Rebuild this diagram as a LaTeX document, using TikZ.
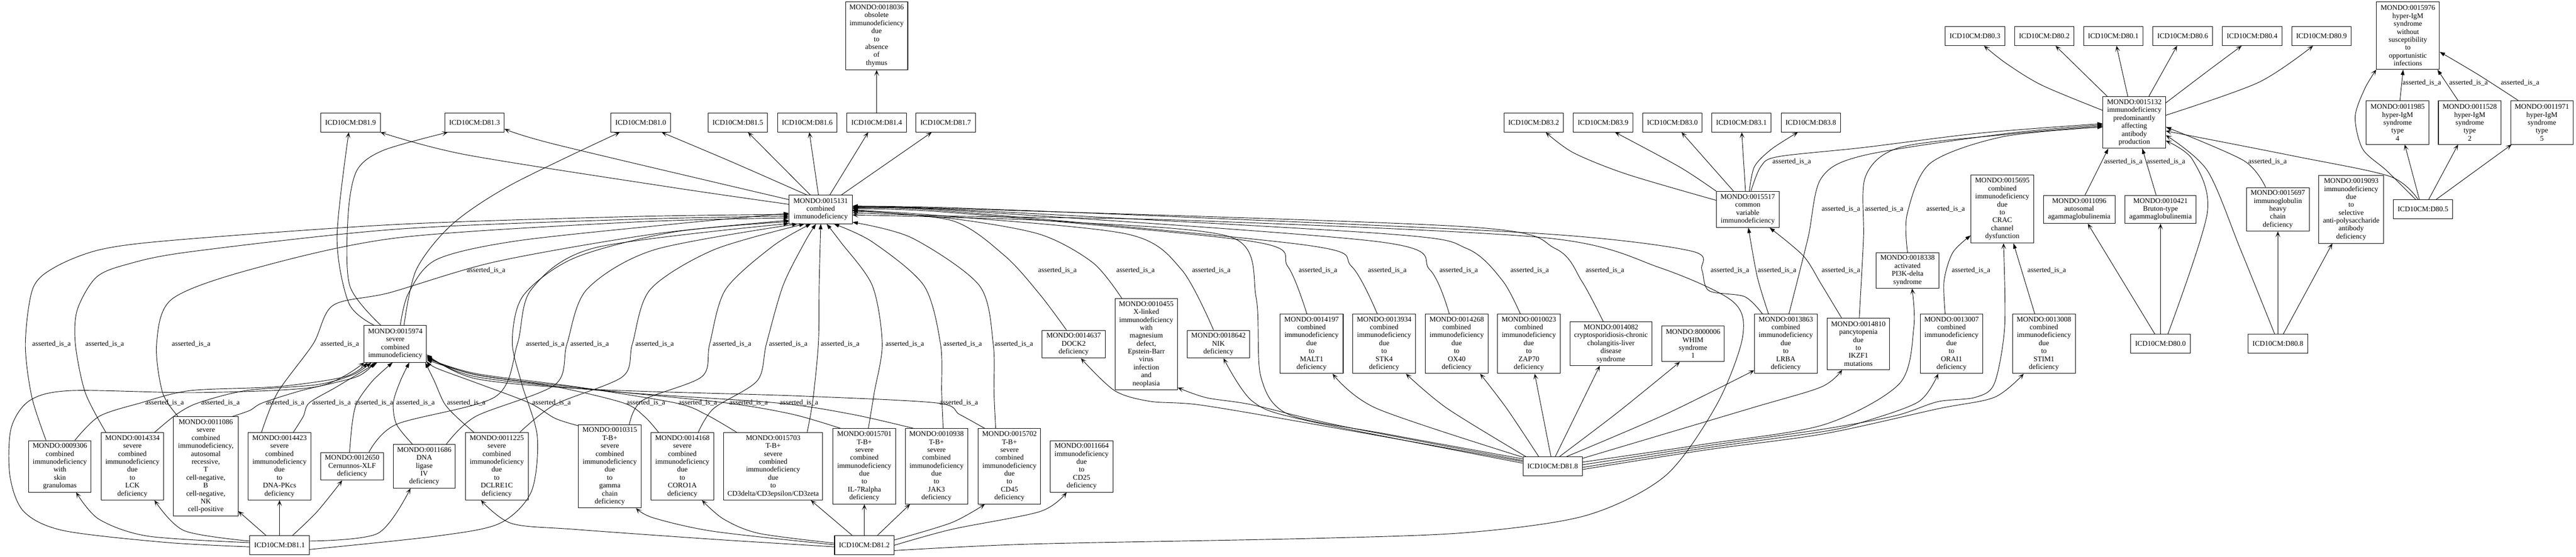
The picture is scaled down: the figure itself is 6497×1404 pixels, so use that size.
\documentclass[tikz,border=0pt]{standalone}
\usepackage{fontspec}
\setmainfont{Liberation Serif}
\usetikzlibrary{arrows.meta}
\newcommand\lfont{\fontsize{13.65}{15}\selectfont}
\newcommand\gbx[6]{\node[gbox, minimum width=#4*0.75pt, minimum height=#5*0.75pt] (#1) at (#2,#3) {#6};}
\newcommand\glb[2]{\node[glab] at (#1,#2) {asserted\_is\_a};}
\tikzset{
  gbox/.style={draw, line width=1pt, align=center, inner sep=0pt, font=\lfont},
  glab/.style={inner sep=0pt, font=\lfont},
  eisa/.style={draw, line width=0.9pt, -{Triangle[length=10pt,width=7pt]}},
  exref/.style={draw, line width=0.9pt, -{Stealth[length=11pt,width=9pt,inset=6pt]}}
}
\begin{document}
\begin{tikzpicture}[x=0.75pt,y=-0.75pt]
\fill[white] (0,0) rectangle (6497,1404);
\useasboundingbox (0,0) rectangle (6497,1404);
% ICD nodes
\gbx{d819}{884}{309}{150}{48}{ICD10CM:D81.9}
\gbx{d813}{1197}{309}{150}{48}{ICD10CM:D81.3}
\gbx{d810}{1616}{309}{150}{48}{ICD10CM:D81.0}
\gbx{d815}{1861}{309}{150}{48}{ICD10CM:D81.5}
\gbx{d816}{2036}{309}{150}{48}{ICD10CM:D81.6}
\gbx{d814}{2211}{309}{150}{48}{ICD10CM:D81.4}
\gbx{d817}{2385}{309}{150}{48}{ICD10CM:D81.7}
\gbx{d832}{3868}{309}{150}{48}{ICD10CM:D83.2}
\gbx{d839}{4043}{309}{150}{48}{ICD10CM:D83.9}
\gbx{d830}{4218}{309}{150}{48}{ICD10CM:D83.0}
\gbx{d831}{4392}{309}{150}{48}{ICD10CM:D83.1}
\gbx{d838}{4567}{309}{150}{48}{ICD10CM:D83.8}
\gbx{d803}{4981}{91}{150}{48}{ICD10CM:D80.3}
\gbx{d802}{5156}{91}{150}{48}{ICD10CM:D80.2}
\gbx{d801}{5330}{91}{150}{48}{ICD10CM:D80.1}
\gbx{d806}{5505}{91}{150}{48}{ICD10CM:D80.6}
\gbx{d804}{5680}{91}{150}{48}{ICD10CM:D80.4}
\gbx{d809}{5855}{91}{150}{48}{ICD10CM:D80.9}
\gbx{d811}{705}{1375}{150}{48}{ICD10CM:D81.1}
\gbx{d812}{2180}{1375}{150}{48}{ICD10CM:D81.2}
\gbx{d818}{3916}{1176}{150}{48}{ICD10CM:D81.8}
\gbx{d800}{5449}{867}{150}{48}{ICD10CM:D80.0}
\gbx{d808}{5745}{867}{150}{48}{ICD10CM:D80.8}
\gbx{d805}{6111}{528}{150}{48}{ICD10CM:D80.5}
% MONDO nodes
\gbx{m18036}{2211}{90}{157}{172}{MONDO:0018036\\obsolete\\immunodeficiency\\due\\to\\absence\\of\\thymus}
\gbx{m15976}{6073}{90}{159}{170}{MONDO:0015976\\hyper-IgM\\syndrome\\without\\susceptibility\\to\\opportunistic\\infections}
\gbx{m15131}{2070}{528}{159}{72}{MONDO:0015131\\combined\\immunodeficiency}
\gbx{m15517}{4408}{528}{159}{91}{MONDO:0015517\\common\\variable\\immunodeficiency}
\gbx{m15695}{5050}{527}{158}{172}{MONDO:0015695\\combined\\immunodeficiency\\due\\to\\CRAC\\channel\\dysfunction}
\gbx{m15132}{5383}{309}{158}{130}{MONDO:0015132\\immunodeficiency\\predominantly\\affecting\\antibody\\production}
\gbx{m11985}{6047}{309}{158}{110}{MONDO:0011985\\hyper-IgM\\syndrome\\type\\4}
\gbx{m11528}{6229}{309}{158}{110}{MONDO:0011528\\hyper-IgM\\syndrome\\type\\2}
\gbx{m11971}{6411}{309}{157}{110}{MONDO:0011971\\hyper-IgM\\syndrome\\type\\5}
\gbx{m11096}{5244}{528}{180}{71}{MONDO:0011096\\autosomal\\agammaglobulinemia}
\gbx{m10421}{5449}{528}{180}{71}{MONDO:0010421\\Bruton-type\\agammaglobulinemia}
\gbx{m15697}{5745}{528}{158}{110}{MONDO:0015697\\immunoglobulin\\heavy\\chain\\deficiency}
\gbx{m19093}{5930}{528}{163}{171}{MONDO:0019093\\immunodeficiency\\due\\to\\selective\\anti-polysaccharide\\antibody\\deficiency}
\gbx{m18338}{4811}{682}{158}{90}{MONDO:0018338\\activated\\PI3K-delta\\syndrome}
\gbx{m15974}{997}{867}{157}{93}{MONDO:0015974\\severe\\combined\\immunodeficiency}
\gbx{m14637}{2708}{868}{159}{70}{MONDO:0014637\\DOCK2\\deficiency}
\gbx{m10455}{2891}{868}{158}{229}{MONDO:0010455\\X-linked\\immunodeficiency\\with\\magnesium\\defect,\\Epstein-Barr\\virus\\infection\\and\\neoplasia}
\gbx{m18642}{3073}{868}{158}{70}{MONDO:0018642\\NIK\\deficiency}
\gbx{m14197}{3308}{867}{159}{150}{MONDO:0014197\\combined\\immunodeficiency\\due\\to\\MALT1\\deficiency}
\gbx{m13934}{3491}{867}{158}{150}{MONDO:0013934\\combined\\immunodeficiency\\due\\to\\STK4\\deficiency}
\gbx{m14268}{3674}{867}{158}{150}{MONDO:0014268\\combined\\immunodeficiency\\due\\to\\OX40\\deficiency}
\gbx{m10023}{3856}{867}{158}{150}{MONDO:0010023\\combined\\immunodeficiency\\due\\to\\ZAP70\\deficiency}
\gbx{m14082}{4063}{867}{206}{110}{MONDO:0014082\\cryptosporidiosis-chronic\\cholangitis-liver\\disease\\syndrome}
\gbx{m8000006}{4270}{867}{158}{90}{MONDO:8000006\\WHIM\\syndrome\\1}
\gbx{m13863}{4504}{867}{158}{150}{MONDO:0013863\\combined\\immunodeficiency\\due\\to\\LRBA\\deficiency}
\gbx{m14810}{4687}{867}{158}{130}{MONDO:0014810\\pancytopenia\\due\\to\\IKZF1\\mutations}
\gbx{m13007}{4922}{867}{158}{150}{MONDO:0013007\\combined\\immunodeficiency\\due\\to\\ORAI1\\deficiency}
\gbx{m13008}{5155}{867}{159}{150}{MONDO:0013008\\combined\\immunodeficiency\\due\\to\\STIM1\\deficiency}
\gbx{m9306}{151}{1176}{157}{130}{MONDO:0009306\\combined\\immunodeficiency\\with\\skin\\granulomas}
\gbx{m14334}{334}{1176}{158}{170}{MONDO:0014334\\severe\\combined\\immunodeficiency\\due\\to\\LCK\\deficiency}
\gbx{m11086}{519}{1176}{163}{250}{MONDO:0011086\\severe\\combined\\immunodeficiency,\\autosomal\\recessive,\\T\\cell-negative,\\B\\cell-negative,\\NK\\cell-positive}
\gbx{m14423}{705}{1176}{158}{170}{MONDO:0014423\\severe\\combined\\immunodeficiency\\due\\to\\DNA-PKcs\\deficiency}
\gbx{m12650}{888}{1176}{158}{70}{MONDO:0012650\\Cernunnos-XLF\\deficiency}
\gbx{m11686}{1070}{1176}{157}{110}{MONDO:0011686\\DNA\\ligase\\IV\\deficiency}
\gbx{m11225}{1253}{1176}{158}{170}{MONDO:0011225\\severe\\combined\\immunodeficiency\\due\\to\\DCLRE1C\\deficiency}
\gbx{m10315}{1538}{1176}{159}{210}{MONDO:0010315\\T-B+\\severe\\combined\\immunodeficiency\\due\\to\\gamma\\chain\\deficiency}
\gbx{m14168}{1721}{1176}{158}{170}{MONDO:0014168\\severe\\combined\\immunodeficiency\\due\\to\\CORO1A\\deficiency}
\gbx{m15703}{1950}{1176}{249}{170}{MONDO:0015703\\T-B+\\severe\\combined\\immunodeficiency\\due\\to\\CD3delta/CD3epsilon/CD3zeta}
\gbx{m15701}{2180}{1176}{158}{190}{MONDO:0015701\\T-B+\\severe\\combined\\immunodeficiency\\due\\to\\IL-7Ralpha\\deficiency}
\gbx{m10938}{2362}{1176}{157}{190}{MONDO:0010938\\T-B+\\severe\\combined\\immunodeficiency\\due\\to\\JAK3\\deficiency}
\gbx{m15702}{2546}{1176}{157}{190}{MONDO:0015702\\T-B+\\severe\\combined\\immunodeficiency\\due\\to\\CD45\\deficiency}
\gbx{m11664}{2728}{1176}{158}{130}{MONDO:0011664\\immunodeficiency\\due\\to\\CD25\\deficiency}
% labels
\glb{6108}{209}\glb{6226}{209}\glb{6356}{209}
\glb{4519}{408}\glb{5355}{408}\glb{5463}{408}\glb{5719}{408}
\glb{4643}{527}\glb{4752}{527}\glb{4907}{527}
\glb{1226}{682}\glb{2667}{682}\glb{2864}{682}\glb{3055}{682}\glb{3324}{682}\glb{3499}{682}\glb{3679}{682}
\glb{3858}{682}\glb{4048}{682}\glb{4363}{682}\glb{4482}{682}\glb{4643}{682}\glb{4971}{682}\glb{5162}{682}
\glb{130}{867}\glb{264}{867}\glb{482}{867}\glb{857}{867}\glb{1375}{867}\glb{1487}{867}\glb{1651}{867}
\glb{1846}{867}\glb{1988}{867}\glb{2119}{867}\glb{2282}{867}\glb{2428}{867}\glb{2557}{867}
\glb{415}{1016}\glb{556}{1016}\glb{719}{1016}\glb{836}{1016}\glb{943}{1016}\glb{1048}{1016}\glb{1176}{1016}
\glb{1391}{1016}\glb{1629}{1016}\glb{1760}{1016}\glb{1888}{1016}\glb{2015}{1016}\glb{2418}{1016}
% ===== xrefs of 0015131 and 0015974
\draw[exref] plot[smooth] coordinates {(m15131.171) (1691,472) (1174,390) (d819.-18)};
\draw[exref] plot[smooth] coordinates {(m15131.163) (1404,365) (d813.-12)};
\draw[exref] plot[smooth] coordinates {(m15131.134) (1845,408) (d810.-25)};
\draw[exref] (m15131.126) -- (d815.-44);
\draw[exref] (m15131.99) -- (d816.-78);
\draw[exref] (m15131.58) -- (d814.-131);
\draw[exref] (m15131.35) -- (d817.-145);
\draw[exref] (d814) -- (m18036);
\draw[exref] plot[smooth] coordinates {(m15974.139) (880,765) (850,600) (d819.-100)};
\draw[exref] plot[smooth] coordinates {(m15974.128) (882,720) (878,542) (900,430) (967,379) (d813.-160)};
\draw[exref] plot[smooth] coordinates {(m15974.65) (1050,680) (1140,566) (1289,466) (d810.-155)};
% ===== is_a into 0015131 from the left
\draw[eisa] plot[smooth] coordinates {(m15974.75) (1030,740) (1100,655) (1300,608) (1700,565) (m15131.187)};
\draw[eisa] plot[smooth] coordinates {(m9306.118) (80,1000) (64,867) (83,727) (140,673) (255,629) (447,605) (1000,566) (1600,546) (m15131.189)};
\draw[eisa] plot[smooth] coordinates {(m14334.128) (215,990) (190,867) (195,781) (242,700) (319,667) (479,635) (1000,578) (1600,553) (m15131.192)};
\draw[eisa] plot[smooth] coordinates {(m11086.119) (410,990) (395,867) (434,754) (638,678) (1000,600) (1600,560) (m15131.195)};
\draw[eisa] plot[smooth] coordinates {(m14423.118) (700,990) (790,867) (840,770) (983,738) (1250,660) (1650,590) (m15131.199)};
\draw[eisa] plot[smooth] coordinates {(m12650.40) (1000,1070) (1250,1000) (1305,867) (1340,730) (1500,625) (m15131.204)};
\draw[eisa] plot[smooth] coordinates {(m11686.45) (1200,1050) (1400,970) (1430,867) (1480,730) (1650,630) (m15131.212)};
\draw[eisa] plot[smooth] coordinates {(m11225.56) (1400,1020) (1570,950) (1595,867) (1640,730) (1800,630) (m15131.222)};
\draw[eisa] plot[smooth] coordinates {(m10315.65) (1620,1010) (1770,950) (1790,867) (1830,730) (1950,620) (m15131.236)};
\draw[eisa] plot[smooth] coordinates {(m14168.65) (1800,1030) (1910,960) (1933,867) (1975,720) (2030,610) (m15131.252)};
\draw[eisa] plot[smooth] coordinates {(m15703.45) (2050,1010) (2064,867) (2066,720) (m15131.270)};
\draw[eisa] plot[smooth] coordinates {(m15701.84) (2205,990) (2225,867) (2200,720) (2120,610) (m15131.292)};
\draw[eisa] plot[smooth] coordinates {(m10938.80) (2375,990) (2372,867) (2330,720) (2200,610) (m15131.312)};
\draw[eisa] plot[smooth] coordinates {(m15702.110) (2507,990) (2505,867) (2470,720) (2300,600) (m15131.-22)};
% ===== is_a into 0015974
\draw[eisa] plot[smooth] coordinates {(m9306.60) (250,1050) (355,1016) (480,985) (700,975) (870,950) (m15974.214)};
\draw[eisa] plot[smooth] coordinates {(m14334.57) (445,1045) (500,1016) (620,985) (800,970) (890,945) (m15974.218)};
\draw[eisa] plot[smooth] coordinates {(m11086.62) (630,1035) (662,1016) (760,985) (900,950) (m15974.222)};
\draw[eisa] plot[smooth] coordinates {(m14423.68) (765,1050) (780,1016) (850,975) (m15974.226)};
\draw[eisa] plot[smooth] coordinates {(m12650.100) (888,1070) (900,1016) (940,960) (m15974.262)};
\draw[eisa] plot[smooth] coordinates {(m11686.118) (1000,1070) (992,1016) (1010,960) (m15974.-53)};
\draw[eisa] plot[smooth] coordinates {(m11225.124) (1150,1050) (1120,1016) (1095,960) (m15974.-32)};
\draw[eisa] plot[smooth] coordinates {(m10315.128) (1400,1055) (1335,1016) (1200,965) (1100,928) (m15974.-29)};
\draw[eisa] plot[smooth] coordinates {(m14168.125) (1625,1050) (1572,1016) (1400,975) (1200,945) (m15974.-27)};
\draw[eisa] plot[smooth] coordinates {(m15703.137) (1780,1045) (1703,1016) (1450,975) (1200,942) (m15974.-25)};
\draw[eisa] plot[smooth] coordinates {(m15701.122) (2000,1045) (1831,1016) (1500,982) (1200,945) (m15974.-23)};
\draw[eisa] plot[smooth] coordinates {(m10938.121) (2150,1045) (1958,1016) (1550,988) (1200,950) (m15974.-21)};
\draw[eisa] plot[smooth] coordinates {(m15702.123) (2420,1045) (2361,1016) (2000,998) (1500,982) (1200,955) (m15974.-19)};
% ===== D81.1 xrefs
\draw[exref] plot[smooth] coordinates {(d811.175) (373,1352) (249,1309) (m9306.-58)};
\draw[exref] plot[smooth] coordinates {(d811.172) (464,1338) (m14334.-57)};
\draw[exref] (d811.144) -- (m11086.-54);
\draw[exref] (d811.north) -- (m14423.south);
\draw[exref] plot[smooth] coordinates {(d811.37) (800,1290) (m12650.-125)};
\draw[exref] plot[smooth] coordinates {(d811.8) (953,1345) (m11686.-122)};
\draw[exref] plot[smooth] coordinates {(d811.183) (420,1368) (160,1338) (60,1290) (25,1200) (28,1080) (75,1010) (180,985) (500,990) (800,975) (m15974.211)};
\draw[exref] plot[smooth] coordinates {(d811.-8) (1100,1352) (1260,1320) (1340,1240) (1355,1100) (1315,965) (1292,860) (1320,745) (1450,650) (1700,585) (m15131.201)};
% ===== D81.2 xrefs
\draw[exref] plot[smooth] coordinates {(d812.183) (1800,1360) (1450,1335) (1290,1320) (m11225.-115)};
\draw[exref] plot[smooth] coordinates {(d812.179) (1800,1340) (1648,1306) (m10315.-58)};
\draw[exref] plot[smooth] coordinates {(d812.176) (1914,1345) (1825,1309) (m14168.-60)};
\draw[exref] (d812.141) -- (m15703.-42);
\draw[exref] (d812.north) -- (m15701.south);
\draw[exref] (d812.37) -- (m10938.-125);
\draw[exref] plot[smooth] coordinates {(d812.10) (2400,1318) (m15702.-123)};
\draw[exref] plot[smooth] coordinates {(d812.0) (2400,1335) (2623,1290) (m11664.-120)};
\draw[exref] plot[smooth] coordinates {(d812.-10) (2600,1372) (3300,1358) (3700,1343) (4000,1300) (4200,1200) (4330,1020) (4395,850) (4370,760) (4186,675) (3900,600) (3000,556) (2400,545) (m15131.-6)};
% ===== is_a into 0015131 from the right
\draw[eisa] plot[smooth] coordinates {(m14637.117) (2623,743) (2534,645) (2400,556) (m15131.-3)};
\draw[eisa] plot[smooth] coordinates {(m10455.118) (2757,663) (2623,591) (2400,551) (m15131.-2)};
\draw[eisa] plot[smooth] coordinates {(m18642.109) (2980,680) (2846,591) (2400,546) (m15131.-1)};
\draw[eisa] plot[smooth] coordinates {(m14197.99) (3248,672) (3159,609) (2400,536) (m15131.1)};
\draw[eisa] plot[smooth] coordinates {(m13934.103) (3409,672) (3293,618) (2400,533) (m15131.2)};
\draw[eisa] plot[smooth] coordinates {(m14268.104) (3606,680) (3472,609) (2400,530) (m15131.3)};
\draw[eisa] plot[smooth] coordinates {(m10023.106) (3789,707) (3700,627) (3500,590) (2400,528) (m15131.4)};
\draw[eisa] plot[smooth] coordinates {(m14082.109) (3990,710) (3923,627) (3700,572) (2400,526) (m15131.5)};
\draw[eisa] plot[smooth] coordinates {(m13863.128) (4400,748) (4310,733) (4292,680) (4265,633) (3900,590) (3000,548) (2400,524) (m15131.6)};
% ===== D81.8 xrefs
\draw[exref] plot[smooth] coordinates {(d818.166) (3500,1095) (3250,1045) (3180,950) (3168,750) (3110,600) (2700,560) (2400,548) (m15131.-10)};
\draw[exref] plot[smooth] coordinates {(d818.171) (3293,1066) (3025,1021) (2900,1012) (2811,985) (m14637.-63)};
\draw[exref] plot[smooth] coordinates {(d818.169) (3382,1074) (3159,1021) (3043,1003) (m10455.-54)};
\draw[exref] plot[smooth] coordinates {(d818.174) (3293,1060) (3159,1012) (m18642.-70)};
\draw[exref] plot[smooth] coordinates {(d818.163) (3472,1030) (m14197.-55)};
\draw[exref] plot[smooth] coordinates {(d818.160) (3650,1030) (m13934.-54)};
\draw[exref] plot[smooth] coordinates {(d818.145) (3800,1030) (m14268.-52)};
\draw[exref] (d818.100) -- (m10023.-79);
\draw[exref] (d818.75) -- (m14082.-117);
\draw[exref] plot[smooth] coordinates {(d818.55) (4080,1040) (m8000006.-126)};
\draw[exref] plot[smooth] coordinates {(d818.35) (4200,1045) (m13863.-140)};
\draw[exref] plot[smooth] coordinates {(d818.15) (4414,1030) (4593,976) (m14810.-122)};
\draw[exref] plot[smooth] coordinates {(d818.8) (4300,1120) (4600,1071) (4791,967) (4827,824) (m18338.-76)};
\draw[exref] plot[smooth] coordinates {(d818.3) (4300,1125) (4600,1082) (4782,1048) (4887,1013) (4982,1002) (5030,967) (5056,824) (m15695.-88)};
\draw[exref] plot[smooth] coordinates {(d818.-2) (4300,1130) (4600,1088) (4696,1065) (4839,1013) (m13007.-114)};
\draw[exref] plot[smooth] coordinates {(d818.-6) (4300,1135) (4600,1094) (4887,1031) (5030,1002) (m13008.-124)};
% ===== right group is_a
\draw[eisa] (m11985.84) -- (m15976.-98);
\draw[eisa] (m11528.118) -- (m15976.-49);
\draw[eisa] plot[smooth] coordinates {(m11971.137) (6250,188) (m15976.-27)};
\draw[eisa] plot[smooth] coordinates {(m15517.80) (4441,420) (4485,395) (4700,372) (5000,335) (m15132.182)};
\draw[eisa] plot[smooth] coordinates {(m13863.84) (4560,600) (4593,450) (4700,392) (5050,338) (m15132.184)};
\draw[eisa] plot[smooth] coordinates {(m14810.88) (4700,600) (4705,445) (4791,372) (5050,340) (m15132.186)};
\draw[eisa] plot[smooth] coordinates {(m18338.north) (4810,540) (4868,412) (5050,345) (m15132.188)};
\draw[eisa] (m11096.68) -- (m15132.-135);
\draw[eisa] (m10421.107) -- (m15132.-73);
\draw[eisa] plot[smooth] coordinates {(m15697.119) (5659,405) (m15132.-8)};
\draw[eisa] plot[smooth] coordinates {(m13007.102) (4903,709) (4925,637) (m15695.-140)};
\draw[eisa] (m13008.107) -- (m15695.-72);
\draw[eisa] plot[smooth] coordinates {(m13863.120) (4432,698) (m15517.-88)};
\draw[eisa] plot[smooth] coordinates {(m14810.123) (4593,716) (4548,645) (m15517.-40)};
% ===== right group xrefs
\draw[exref] plot[smooth] coordinates {(m15517.164) (4102,439) (3968,385) (d832.-39)};
\draw[exref] plot[smooth] coordinates {(m15517.150) (4236,421) (d839.-39)};
\draw[exref] (m15517.128) -- (d830.-47);
\draw[exref] (m15517.97) -- (d831.-88);
\draw[exref] plot[smooth] coordinates {(m15517.85) (4425,420) (4468,376) (d838.-143)};
\draw[exref] plot[smooth] coordinates {(m15132.159) (5150,215) (5060,160) (d803.-47)};
\draw[exref] (m15132.136) -- (d802.-41);
\draw[exref] (m15132.104) -- (d801.-72);
\draw[exref] (m15132.61) -- (d806.-120);
\draw[exref] plot[smooth] coordinates {(m15132.32) (5567,180) (d804.-137)};
\draw[exref] plot[smooth] coordinates {(m15132.13) (5696,208) (d809.-131)};
\draw[exref] (d800.120) -- (m11096.-59);
\draw[exref] (d800.north) -- (m10421.south);
\draw[exref] plot[smooth] coordinates {(d800.53) (5567,537) (5530,403) (m15132.-30)};
\draw[exref] (d808.north) -- (m15697.south);
\draw[exref] (d808.61) -- (m19093.-119);
\draw[exref] plot[smooth] coordinates {(d808.108) (5650,627) (5567,430) (m15132.-22)};
\draw[exref] (d805.110) -- (m11985.-72);
\draw[exref] (d805.60) -- (m11528.-118);
\draw[exref] (d805.37) -- (m11971.-144);
\draw[exref] plot[smooth] coordinates {(d805.126) (6019,430) (5959,376) (5940,295) (5964,224) (m15976.-133)};
\draw[exref] plot[smooth] coordinates {(d805.116) (6028,445) (5788,394) (m15132.-15)};
\end{tikzpicture}
\end{document}
